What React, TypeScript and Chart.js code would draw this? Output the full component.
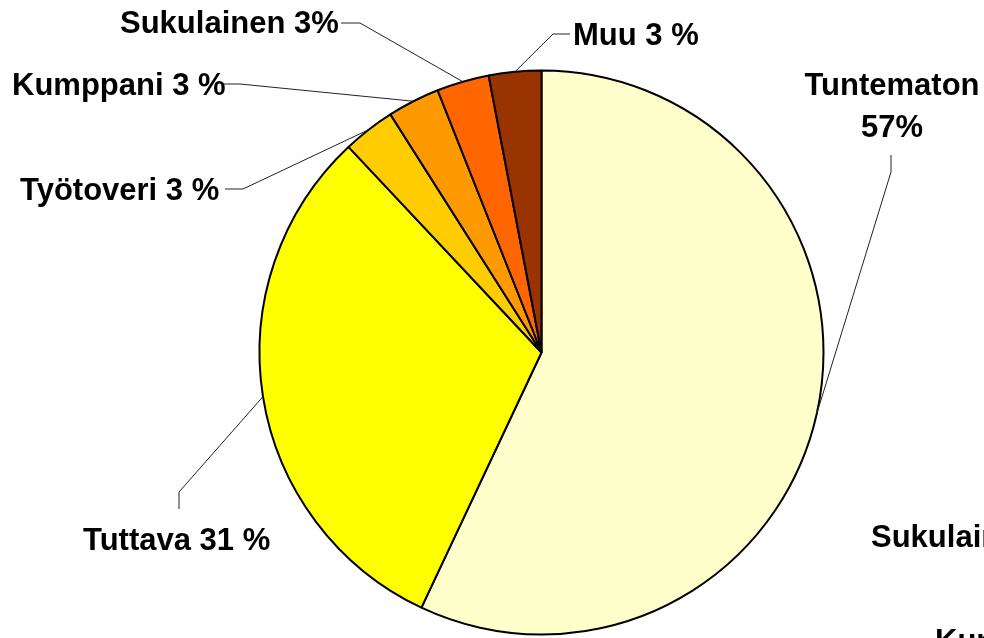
import React, { useEffect, useRef } from "react";
import { Chart, registerables } from "chart.js";

Chart.register(...registerables);

const categories = ["Tuntematon", "Tuttava", "Työtoveri", "Kumppani", "Sukulainen", "Muu"];
const values = [57, 31, 3, 3, 3, 3];
const labelLines: string[][] = [
  ["Tuntematon", "57%"],
  ["Tuttava 31 %"],
  ["Työtoveri 3 %"],
  ["Kumppani 3 %"],
  ["Sukulainen 3%"],
  ["Muu 3 %"],
];
const colors = ["#FFFFCC", "#FFFF00", "#FFCC00", "#FF9900", "#FF6600", "#993300"];
const clippedTexts = ["Sukulainen", "Kumppani"];

// label layout: text anchor, alignment, elbow point, end point of leader
const layout = [
  { x: 892, y: 95, align: "center", lineGap: 42, elbow: [891, 172], end: [891, 155] },
  { x: 83, y: 550, align: "left", lineGap: 0, elbow: [179, 492], end: [179, 509] },
  { x: 20, y: 200, align: "left", lineGap: 0, elbow: [243, 189], end: [225, 189] },
  { x: 12, y: 95, align: "left", lineGap: 0, elbow: [240, 84], end: [224, 84] },
  { x: 120, y: 33, align: "left", lineGap: 0, elbow: [360, 23], end: [341, 23] },
  { x: 573, y: 45, align: "left", lineGap: 0, elbow: [553, 34], end: [570, 34] },
];
const clippedLayout = [
  { x: 871, y: 547 },
  { x: 935, y: 651 },
];

const FONT = "bold 31px 'Liberation Sans', Arial, sans-serif";

const labelPlugin = {
  id: "pieLabels",
  afterDraw(chart: any) {
    const ctx = chart.ctx;
    const meta = chart.getDatasetMeta(0);
    ctx.save();
    meta.data.forEach((arc: any, i: number) => {
      const p = arc.getProps(["x", "y", "startAngle", "endAngle", "outerRadius"], true);
      const mid = (p.startAngle + p.endAngle) / 2;
      const sx = p.x + Math.cos(mid) * p.outerRadius;
      const sy = p.y + Math.sin(mid) * p.outerRadius;
      const L = layout[i];
      ctx.strokeStyle = "#222";
      ctx.lineWidth = 1;
      ctx.beginPath();
      ctx.moveTo(sx, sy);
      ctx.lineTo(L.elbow[0], L.elbow[1]);
      ctx.lineTo(L.end[0], L.end[1]);
      ctx.stroke();
      ctx.fillStyle = "#000";
      ctx.font = FONT;
      ctx.textAlign = L.align as CanvasTextAlign;
      ctx.textBaseline = "alphabetic";
      labelLines[i].forEach((t, k) => {
        ctx.fillText(t, L.x, L.y + k * L.lineGap);
      });
    });
    ctx.textAlign = "left";
    clippedTexts.forEach((t, i) => {
      ctx.fillText(t, clippedLayout[i].x, clippedLayout[i].y);
    });
    ctx.restore();
  },
};

export default function App() {
  const ref = useRef<HTMLCanvasElement | null>(null);
  useEffect(() => {
    if (!ref.current) return;
    const chart = new Chart(ref.current, {
      type: "pie",
      data: {
        labels: categories,
        datasets: [
          {
            data: values,
            backgroundColor: colors,
            borderColor: "#000",
            borderWidth: 2,
            hoverOffset: 0,
            offset: 0,
          } as any,
        ],
      },
      options: {
        animation: false,
        responsive: false,
        events: [],
        radius: 282,
        layout: { padding: { left: 259.5, right: 160.5, top: 70.5, bottom: 3.5 } },
        plugins: {
          legend: { display: false },
          tooltip: { enabled: false },
        },
      } as any,
      plugins: [labelPlugin],
    });
    return () => chart.destroy();
  }, []);
  return (
    <div style={{ position: "absolute", left: 0, top: 0, width: 984, height: 638, background: "#fff" }}>
      <canvas ref={ref} width={984} height={638} style={{ display: "block" }} />
    </div>
  );
}
